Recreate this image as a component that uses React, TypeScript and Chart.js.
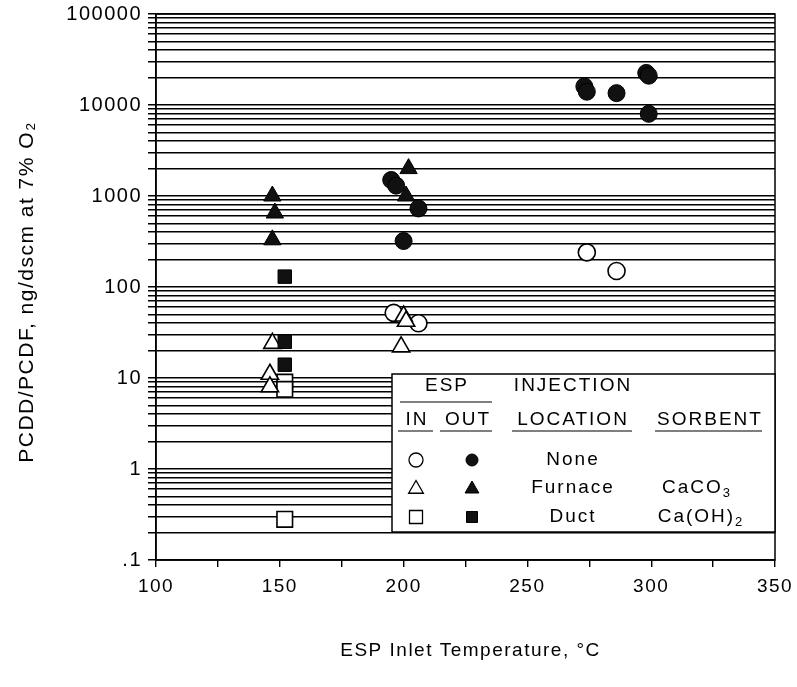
import React, { useEffect, useRef } from "react";
import { Chart, registerables } from "chart.js";

Chart.register(...registerables);

// ---------- data ----------
const xTickStep = 25;
const xLabelValues = [100, 150, 200, 250, 300, 350];
const yLabelValues = [0.1, 1, 10, 100, 1000, 10000, 100000];
const yLabels = [".1", "1", "10", "100", "1000", "10000", "100000"];
const yDecadeStarts = [0.1, 1, 10, 100, 1000, 10000];
const ySignificands = [1, 2, 3, 4, 5, 6, 7, 8, 9];

// No injection (circles)
const noneInX = [196, 206, 274, 286];
const noneInY = [52, 40, 240, 150];
const noneOutX = [195, 197, 206, 200, 273, 274, 286, 298, 299, 299];
const noneOutY = [1500, 1300, 730, 320, 16000, 14000, 13500, 22500, 21000, 8000];

// Furnace injection, CaCO3 (triangles)
const furnaceInX = [147, 146, 146, 200, 201, 199];
const furnaceInY = [24, 11, 8, 48, 42, 22];
const furnaceOutX = [147, 148, 147, 202, 201];
const furnaceOutY = [1000, 650, 330, 2000, 1000];

// Duct injection, Ca(OH)2 (squares)
const ductInX = [152, 152, 152];
const ductInY = [9, 7.5, 0.28];
const ductOutX = [152, 152, 152];
const ductOutY = [130, 25, 14];

// ---------- styling ----------
const FONT = "'Liberation Sans', Arial, Helvetica, sans-serif";
const INK = "#000";

function pts(xs: number[], ys: number[]) {
  return xs.map((x, i) => ({ x, y: ys[i] }));
}

function ds(label: string, xs: number[], ys: number[], style: string, filled: boolean, r: number) {
  return {
    label,
    data: pts(xs, ys),
    pointStyle: style,
    pointRadius: r,
    pointHoverRadius: r,
    pointBackgroundColor: filled ? "#111" : "#fff",
    pointBorderColor: INK,
    pointBorderWidth: filled ? 1 : 1.6,
    showLine: false,
  };
}

function buildYTicks() {
  const out: number[] = [];
  for (const d of yDecadeStarts) {
    for (const s of ySignificands) out.push(parseFloat((d * s).toPrecision(6)));
  }
  out.push(yLabelValues[yLabelValues.length - 1]);
  return out;
}

function yLabelFor(v: number) {
  for (let i = 0; i < yLabelValues.length; i++) {
    if (Math.abs(v - yLabelValues[i]) / yLabelValues[i] < 1e-6) return yLabels[i];
  }
  return "";
}

function drawMarker(ctx: CanvasRenderingContext2D, kind: string, filled: boolean, x: number, y: number, r: number) {
  ctx.save();
  ctx.beginPath();
  if (kind === "circle") {
    ctx.arc(x, y, r, 0, Math.PI * 2);
  } else if (kind === "triangle") {
    const h = r * 1.5;
    const w = r * 1.732;
    ctx.moveTo(x, y - r);
    ctx.lineTo(x + w / 2, y - r + h);
    ctx.lineTo(x - w / 2, y - r + h);
    ctx.closePath();
  } else {
    ctx.rect(x - r, y - r, 2 * r, 2 * r);
  }
  ctx.fillStyle = filled ? "#111" : "#fff";
  ctx.fill();
  ctx.strokeStyle = INK;
  ctx.lineWidth = filled ? 1 : 1.3;
  ctx.stroke();
  ctx.restore();
}

function textWithSub(ctx: CanvasRenderingContext2D, main: string, sub: string, cx: number, cy: number) {
  ctx.save();
  ctx.textBaseline = "middle";
  ctx.textAlign = "left";
  const bigFont = `19px ${FONT}`;
  const smallFont = `13px ${FONT}`;
  ctx.font = bigFont;
  const w1 = ctx.measureText(main).width;
  ctx.font = smallFont;
  const w2 = ctx.measureText(sub).width;
  let x = cx - (w1 + w2) / 2;
  ctx.font = bigFont;
  ctx.fillText(main, x, cy);
  x += w1;
  ctx.font = smallFont;
  ctx.fillText(sub, x, cy + 5);
  ctx.restore();
}

function hline(ctx: CanvasRenderingContext2D, x1: number, x2: number, y: number) {
  ctx.beginPath();
  ctx.moveTo(x1, y);
  ctx.lineTo(x2, y);
  ctx.stroke();
}

const framePlugin = {
  id: "frameAndLegend",
  beforeUpdate(chart: any) {
    chart.ctx.letterSpacing = "1.5px";
  },
  beforeDraw(chart: any) {
    const ctx = chart.ctx as CanvasRenderingContext2D;
    ctx.save();
    ctx.fillStyle = "#fff";
    ctx.fillRect(0, 0, chart.width, chart.height);
    ctx.restore();
    (ctx as any).letterSpacing = "1.5px";
  },
  afterDraw(chart: any) {
    const ctx = chart.ctx as CanvasRenderingContext2D;
    const a = chart.chartArea;
    ctx.save();
    (ctx as any).letterSpacing = "1.5px";
    // frame
    ctx.strokeStyle = INK;
    ctx.lineWidth = 1.5;
    ctx.strokeRect(a.left, a.top, a.right - a.left, a.bottom - a.top);

    // axis titles
    ctx.fillStyle = INK;
    ctx.font = `19px ${FONT}`;
    ctx.textAlign = "center";
    ctx.textBaseline = "middle";
    ctx.fillText("ESP Inlet Temperature, \u00B0C", (a.left + a.right) / 2 + 5, 651);
    ctx.save();
    ctx.translate(27, 292);
    ctx.rotate(-Math.PI / 2);
    ctx.font = `21px ${FONT}`;
    ctx.fillText("PCDD/PCDF, ng/dscm at 7% O\u2082", 0, 0);
    ctx.restore();

    // legend box
    const bx = 392, by = 374, bw = a.right - 392, bh = 158;
    ctx.fillStyle = "#fff";
    ctx.fillRect(bx, by, bw, bh);
    ctx.strokeStyle = INK;
    ctx.lineWidth = 1.5;
    ctx.strokeRect(bx, by, bw, bh);

    ctx.fillStyle = INK;
    (ctx as any).letterSpacing = "2px";
    ctx.font = `19px ${FONT}`;
    ctx.textAlign = "center";
    ctx.textBaseline = "middle";
    ctx.fillText("ESP", 447, 386);
    ctx.fillText("INJECTION", 573, 386);
    ctx.fillText("IN", 417, 420);
    ctx.fillText("OUT", 468, 420);
    ctx.fillText("LOCATION", 573, 420);
    ctx.fillText("SORBENT", 710, 420);

    ctx.lineWidth = 1.2;
    hline(ctx, 400, 492, 402);
    hline(ctx, 398, 433, 431);
    hline(ctx, 440, 492, 431);
    hline(ctx, 512, 632, 431);
    hline(ctx, 655, 762, 431);

    const rows = [460, 488, 517];
    const kinds = ["circle", "triangle", "rect"];
    const names = ["None", "Furnace", "Duct"];
    for (let i = 0; i < 3; i++) {
      const r = kinds[i] === "rect" ? 6.5 : kinds[i] === "triangle" ? 8.5 : 7;
      const yy = kinds[i] === "triangle" ? rows[i] + 1 : rows[i];
      drawMarker(ctx, kinds[i], false, 416, yy, r);
      drawMarker(ctx, kinds[i], true, 472, yy, kinds[i] === "rect" ? 5.5 : kinds[i] === "triangle" ? 8 : 6);
      ctx.fillStyle = INK;
      ctx.font = `19px ${FONT}`;
      ctx.textAlign = "center";
      ctx.fillText(names[i], 573, rows[i]);
    }
    ctx.fillStyle = INK;
    textWithSub(ctx, "CaCO", "3", 697, 488);
    textWithSub(ctx, "Ca(OH)", "2", 701, 517);
    ctx.restore();
  },
};

export default function App() {
  const ref = useRef<HTMLCanvasElement | null>(null);

  useEffect(() => {
    if (!ref.current) return;
    const yTicks = buildYTicks();
    const chart = new Chart(ref.current, {
      type: "scatter",
      data: {
        datasets: [
          ds("None OUT", noneOutX, noneOutY, "circle", true, 8.5),
          ds("Furnace OUT", furnaceOutX, furnaceOutY, "triangle", true, 10),
          ds("Duct OUT", ductOutX, ductOutY, "rect", true, 9.5),
          ds("Furnace IN", furnaceInX, furnaceInY, "triangle", false, 10),
          ds("None IN", noneInX, noneInY, "circle", false, 8.5),
          ds("Duct IN", ductInX, ductInY, "rect", false, 11),
        ] as any,
      },
      options: {
        animation: false,
        responsive: false,
        devicePixelRatio: 1,
        layout: { padding: { top: 14, right: 22, left: 0, bottom: 0 } },
        plugins: {
          legend: { display: false },
          tooltip: { enabled: false },
          title: { display: false },
        },
        scales: {
          x: {
            type: "linear",
            min: xLabelValues[0],
            max: xLabelValues[xLabelValues.length - 1],
            afterFit: (s: any) => {
              s.height = 127;
              s.paddingLeft = 0;
              s.paddingRight = 0;
            },
            ticks: {
              stepSize: xTickStep,
              autoSkip: false,
              maxRotation: 0,
              padding: 8,
              color: INK,
              font: { family: FONT, size: 19 },
              callback: (v: any) => (xLabelValues.includes(Number(v)) ? String(v) : ""),
            },
            grid: {
              drawOnChartArea: false,
              drawTicks: true,
              tickLength: 7,
              color: INK,
              lineWidth: 1.4,
            },
            border: { color: INK, width: 1.5 },
          },
          y: {
            type: "logarithmic",
            min: yLabelValues[0],
            max: yLabelValues[yLabelValues.length - 1],
            afterFit: (s: any) => {
              s.width = 156;
              s.paddingTop = 0;
              s.paddingBottom = 0;
            },
            afterBuildTicks: (s: any) => {
              s.ticks = yTicks.map((v) => ({ value: v, major: false }));
            },
            ticks: {
              autoSkip: false,
              padding: 6,
              color: INK,
              font: { family: FONT, size: 20 },
              callback: (v: any) => yLabelFor(Number(v)),
            },
            grid: {
              drawOnChartArea: true,
              drawTicks: true,
              tickLength: 8,
              color: "#000",
              lineWidth: 1.5,
            },
            border: { color: INK, width: 1.5 },
          },
        },
      } as any,
      plugins: [framePlugin as any],
    });
    return () => chart.destroy();
  }, []);

  return (
    <div style={{ position: "fixed", left: 0, top: 0, width: 797, height: 687, background: "#fff" }}>
      <canvas ref={ref} width={797} height={687} style={{ display: "block" }} />
    </div>
  );
}
